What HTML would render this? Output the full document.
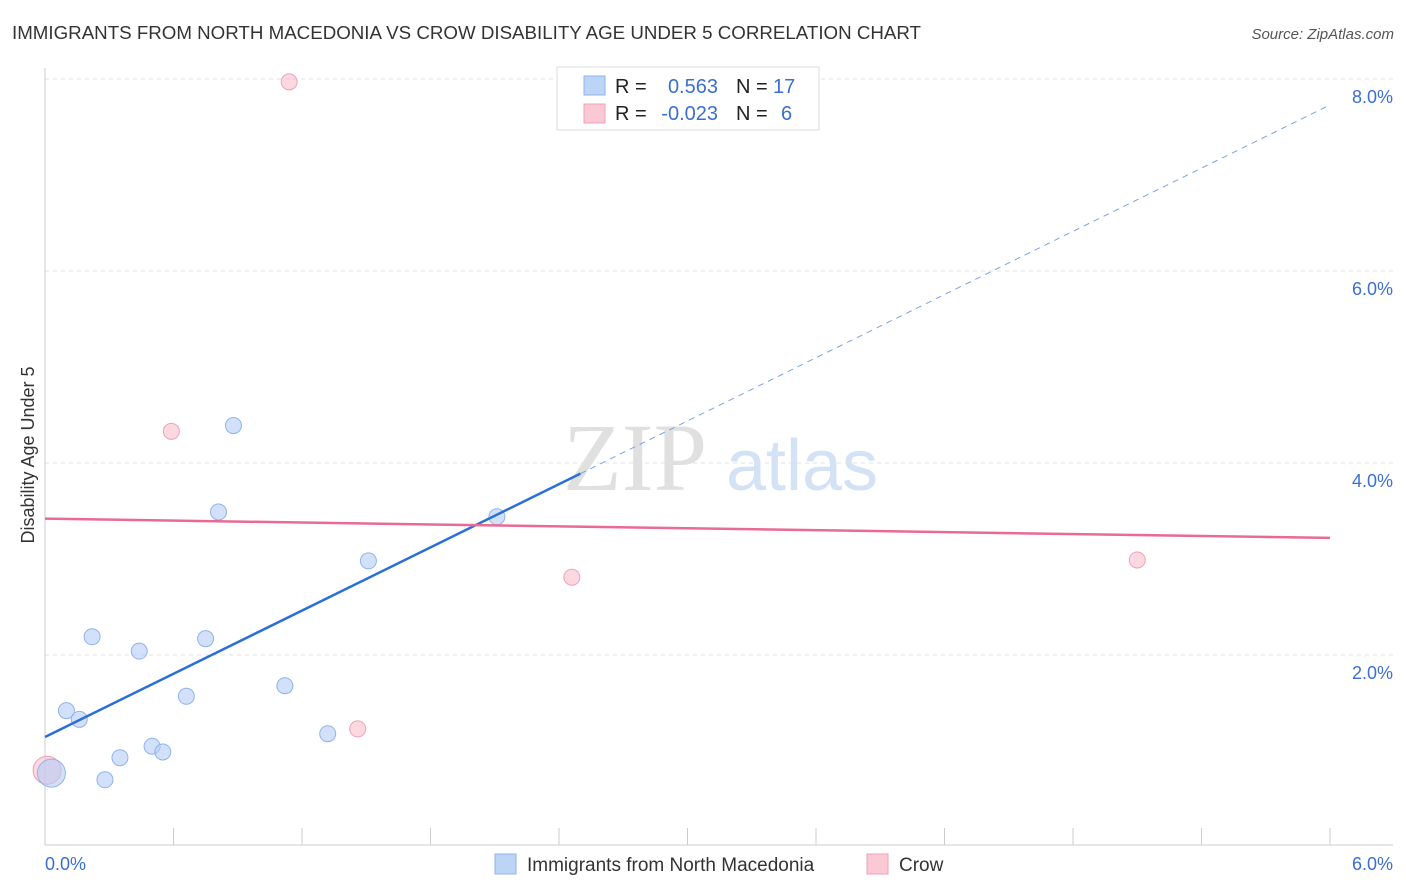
<!DOCTYPE html>
<html><head><meta charset="utf-8">
<style>
body{margin:0;background:#fff;font-family:"Liberation Sans",sans-serif;}
svg{display:block}
</style></head>
<body>
<svg id="c" width="1406" height="892" xmlns="http://www.w3.org/2000/svg">
<text x="12" y="39" font-size="18" fill="#333" textLength="909" lengthAdjust="spacingAndGlyphs">IMMIGRANTS FROM NORTH MACEDONIA VS CROW DISABILITY AGE UNDER 5 CORRELATION CHART</text>
<text x="1394" y="39" font-size="15" fill="#555" font-style="italic" text-anchor="end">Source: ZipAtlas.com</text>
<text x="635" y="490" font-size="96" fill="#e0e0e0" font-family="Liberation Serif,serif" text-anchor="middle">ZIP</text>
<text x="802" y="490" font-size="72" fill="#d3e2f5" text-anchor="middle">atlas</text>
<text transform="translate(34,455) rotate(-90)" font-size="18" fill="#333" text-anchor="middle">Disability Age Under 5</text>
<g id="grid"></g><g id="marks"></g>
<g>
<rect x="557" y="67" width="262" height="63" fill="#fff" stroke="#ddd"/>
<rect x="584" y="76" width="21" height="19" fill="#bcd4f5" stroke="#8fb3ea"/>
<rect x="584" y="104" width="21" height="19" fill="#fbc9d6" stroke="#f0a0b8"/>
<text x="615" y="93" font-size="20" fill="#222">R = </text><text x="718" y="93" font-size="20" fill="#3a6fd0" text-anchor="end">0.563</text>
<text x="736" y="93" font-size="20" fill="#222">N = </text><text x="773" y="93" font-size="20" fill="#3a6fd0">17</text>
<text x="615" y="120" font-size="20" fill="#222">R = </text><text x="718" y="120" font-size="20" fill="#3a6fd0" text-anchor="end">-0.023</text>
<text x="736" y="120" font-size="20" fill="#222">N = </text><text x="781" y="120" font-size="20" fill="#3a6fd0">6</text>
</g>
<g>
<rect x="495" y="854" width="21" height="20" fill="#bcd4f5" stroke="#8fb3ea"/>
<text x="527" y="871" font-size="19" fill="#333">Immigrants from North Macedonia</text>
<rect x="867" y="854" width="21" height="20" fill="#fbc9d6" stroke="#f0a0b8"/>
<text x="899" y="871" font-size="19" fill="#333">Crow</text>
</g>
</svg>
<script>
const yTicks=[2,4,6,8];
const yTickLabels=["2.0%","4.0%","6.0%","8.0%"];
const xTickLabels=["0.0%","6.0%"];
const blueX=[0.03,0.1,0.16,0.22,0.28,0.35,0.44,0.5,0.55,0.66,0.75,0.81,0.88,1.12,1.32,1.51,2.11];
const blueY=[0.77,1.42,1.33,2.19,0.70,0.93,2.04,1.05,0.99,1.57,2.17,3.49,4.39,1.68,1.18,2.98,3.44];
const pinkX=[0.01,0.59,1.14,1.46,2.46,5.10];
const pinkY=[0.80,4.33,7.97,1.23,2.81,2.99];
const blueFit=[1.146,7.73];
const pinkFit=[3.42,3.22];
const NS="http://www.w3.org/2000/svg";
const X=v=>45+v*214.17, Y=v=>847-v*96;
function mk(t,a,p){const e=document.createElementNS(NS,t);for(const k in a)e.setAttribute(k,a[k]);p.appendChild(e);return e;}
const g=document.getElementById('grid'),m=document.getElementById('marks');
yTicks.forEach((t,i)=>{
 const l=mk('line',{x1:45,x2:1393,y1:Y(t),y2:Y(t),stroke:'#e2e2e2','stroke-dasharray':'4,4'},g);
 
 
 const tx=mk('text',{x:1393,y:Y(t)+24,'font-size':18,fill:'#3a6fd0','text-anchor':'end'},g);
 tx.textContent=yTickLabels[i];
 
 
});
mk('line',{x1:45,x2:45,y1:68,y2:845,stroke:'#ccc'},g);
mk('line',{x1:45,x2:1393,y1:845,y2:845,stroke:'#ccc'},g);
for(let i=0;i<=10;i++){const l=mk('line',{x1:X(i*0.6),x2:X(i*0.6),y1:828,y2:845,stroke:'#ccc'},g);
 
 }
[[0,45,'start'],[6,1393,'end']].forEach((d,i)=>{const tx=mk('text',{x:d[1],y:870,'font-size':18,fill:'#3a6fd0','text-anchor':d[2]},g);
 tx.textContent=xTickLabels[i];
 
 });
pinkX.forEach((x,i)=>{const c=mk('circle',{cx:X(x),cy:Y(pinkY[i]),r:i==0?14:8,fill:'rgba(250,190,205,0.6)',stroke:'#f0a0b8'},m);
 
 });
blueX.forEach((x,i)=>{const c=mk('circle',{cx:X(x),cy:Y(blueY[i]),r:i==0?14:8,fill:'rgba(180,205,245,0.6)',stroke:'#8fb3ea'},m);
 
 });
const bAt=x=>blueFit[0]+(blueFit[1]-blueFit[0])*x/6;
let l=mk('line',{x1:X(0),y1:Y(bAt(0)),x2:X(2.5),y2:Y(bAt(2.5)),stroke:'#2a6fd8','stroke-width':2.5},m);


l=mk('line',{x1:X(2.5),y1:Y(bAt(2.5)),x2:X(6),y2:Y(bAt(6)),stroke:'#7aa3e0','stroke-width':1,'stroke-dasharray':'6,5'},m);


l=mk('line',{x1:X(0),y1:Y(pinkFit[0]),x2:X(6),y2:Y(pinkFit[1]),stroke:'#e86a95','stroke-width':2.5},m);


</script>
</body></html>
